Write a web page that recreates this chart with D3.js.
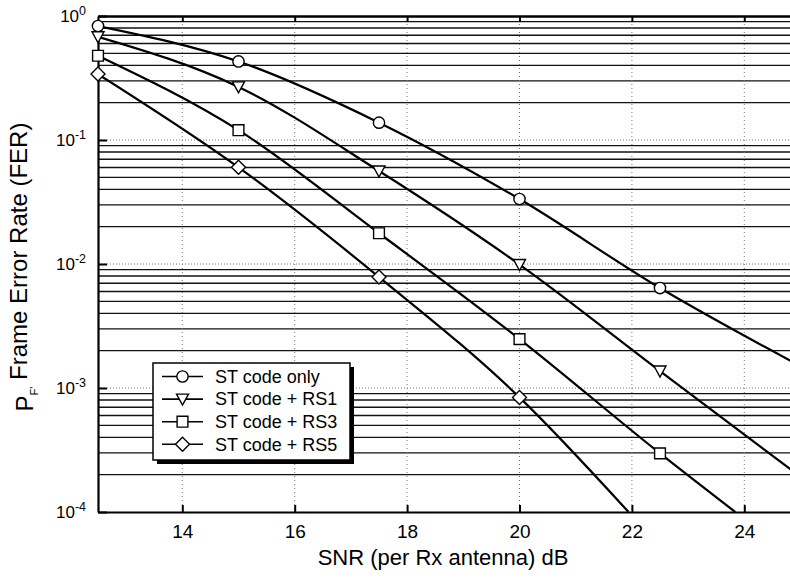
<!DOCTYPE html>
<html>
<head>
<meta charset="utf-8">
<script src="https://cdn.jsdelivr.net/npm/d3@7"></script>
<style>
  body { margin: 0; background: #fff; }
  svg { font-family: "Liberation Sans", Arial, Helvetica, sans-serif; }
  .minor { stroke: #111; stroke-width: 1.4; }
  .major { stroke: #777; stroke-width: 1; stroke-dasharray: 1,2; }
  .vgrid { stroke: #777; stroke-width: 1; stroke-dasharray: 1,3; }
  .axis path, .axis line { stroke: #000; }
  .curve { fill: none; stroke: #000; stroke-width: 2.2; }
  .mark { fill: #fff; stroke: #000; stroke-width: 1.4; }
</style>
</head>
<body>
<div id="chart"></div>
<script>
// SNR points where markers sit (dB)
var snr = [12.5, 15, 17.5, 20, 22.5];

// frame error rate
var ferST  = [0.83, 0.43, 0.138, 0.0334, 0.0064];
var ferRS1 = [0.68, 0.268, 0.0562, 0.0099, 0.00137];
var ferRS3 = [0.478, 0.120, 0.0177, 0.00248, 0.000297];
var ferRS5 = [0.340, 0.0602, 0.00785, 0.00084];

// where each curve leaves the plot (no marker there)
var endSnr = [25, 25, 23.84, 21.94];
var endFer = [0.0015, 0.000192, 0.0001, 0.0001];

var names = ["ST code only", "ST code + RS1", "ST code + RS3", "ST code + RS5"];
var shapes = ["circle", "triangle", "square", "diamond"];

var xTicks = [14, 16, 18, 20, 22, 24];
var yTicks = [1, 0.1, 0.01, 0.001, 0.0001];
var yExp = ["0", "-1", "-2", "-3", "-4"];

var W = 790, H = 585;
var pl = 98, pr = 800.5, pt = 16, pb = 512;

var svg = d3.select("#chart").append("svg")
    .attr("width", W)
    .attr("height", H);

var x = d3.scaleLinear().domain([12.5, 25]).range([pl, pr]);
var y = d3.scaleLog().domain([1e-4, 1]).range([pb, pt]);

svg.append("clipPath").attr("id", "plot")
  .append("rect")
    .attr("x", pl).attr("y", pt)
    .attr("width", pr - pl).attr("height", pb - pt);

// minor horizontal grid (2..9 in each decade)
var minorVals = [];
[-4, -3, -2, -1].forEach(function(e) {
  for (var k = 2; k <= 9; k++) minorVals.push(k * Math.pow(10, e));
});
svg.selectAll(".minor").data(minorVals).enter().append("line")
    .attr("class", "minor")
    .attr("x1", pl).attr("x2", pr)
    .attr("y1", function(d) { return y(d); })
    .attr("y2", function(d) { return y(d); });

svg.selectAll(".major").data([0.1, 0.01, 0.001]).enter().append("line")
    .attr("class", "major")
    .attr("x1", pl).attr("x2", pr)
    .attr("y1", function(d) { return y(d); })
    .attr("y2", function(d) { return y(d); });

svg.selectAll(".vgrid").data(xTicks).enter().append("line")
    .attr("class", "vgrid")
    .attr("x1", function(d) { return x(d); })
    .attr("x2", function(d) { return x(d); })
    .attr("y1", pt).attr("y2", pb);

// axes
var xAxis = svg.append("g")
    .attr("class", "axis")
    .attr("transform", "translate(0," + pb + ")")
    .call(d3.axisBottom(x).tickValues(xTicks).tickSize(-7).tickSizeOuter(0).tickPadding(13));
xAxis.select(".domain").attr("stroke-width", 2.2);
xAxis.selectAll(".tick line").attr("stroke-width", 2);
xAxis.selectAll("text").attr("font-size", 19).attr("font-family", null).attr("fill", "#000");

var topAxis = svg.append("g")
    .attr("class", "axis")
    .attr("transform", "translate(0," + pt + ")")
    .call(d3.axisTop(x).tickValues(xTicks).tickSize(-6).tickSizeOuter(0).tickFormat(""));
topAxis.select(".domain").attr("stroke-width", 2.5);
topAxis.selectAll(".tick line").attr("stroke-width", 2);

var yAxis = svg.append("g")
    .attr("class", "axis")
    .attr("transform", "translate(" + pl + ",0)")
    .call(d3.axisLeft(y).tickValues(yTicks).tickSize(-9).tickSizeOuter(0).tickPadding(12));
yAxis.select(".domain").attr("stroke-width", 2.2);
yAxis.selectAll(".tick line").attr("stroke-width", 2);
yAxis.selectAll("text")
    .attr("font-size", 17).attr("font-family", null).attr("fill", "#000")
    .each(function(d, i) {
      var t = d3.select(this).text(null);
      t.append("tspan").text("10");
      t.append("tspan").attr("dy", "-0.55em").attr("font-size", 12.5).text(yExp[i]);
    });

// symbols
function symbolPath(shape) {
  if (shape === "circle") return d3.symbol(d3.symbolCircle, 100)();
  if (shape === "square") return "M-5.4,-5.4H5.4V5.4H-5.4Z";
  if (shape === "diamond") return "M0,-7L7,0L0,7L-7,0Z";
  return "M-6,-5H6L0,6Z"; // triangle pointing down
}

var allFer = [ferST, ferRS1, ferRS3, ferRS5];
var line = d3.line()
    .curve(d3.curveMonotoneX)
    .x(function(d) { return x(d[0]); })
    .y(function(d) { return y(d[1]); });

var curves = svg.append("g").attr("clip-path", "url(#plot)");
allFer.forEach(function(fer, i) {
  var pts = fer.map(function(v, j) { return [snr[j], v]; });
  var full = pts.concat([[endSnr[i], endFer[i]]]);
  curves.append("path")
      .datum(full)
      .attr("class", "curve")
      .attr("d", line);
  svg.selectAll(".m" + i).data(pts).enter().append("path")
      .attr("class", "mark m" + i)
      .attr("transform", function(d) { return "translate(" + x(d[0]) + "," + y(d[1]) + ")"; })
      .attr("d", symbolPath(shapes[i]));
});

// legend
var lg = svg.append("g");
lg.append("rect")
    .attr("x", 157).attr("y", 367).attr("width", 197).attr("height", 97)
    .attr("fill", "#000");
lg.append("rect")
    .attr("x", 153).attr("y", 363).attr("width", 197).attr("height", 97)
    .attr("fill", "#fff").attr("stroke", "#000").attr("stroke-width", 1.5);
names.forEach(function(n, i) {
  var cy = 376.5 + i * 22.6;
  lg.append("line")
      .attr("x1", 162).attr("x2", 203).attr("y1", cy).attr("y2", cy)
      .attr("stroke", "#000").attr("stroke-width", 1.6);
  lg.append("path")
      .attr("class", "mark")
      .attr("transform", "translate(182.5," + cy + ")")
      .attr("d", symbolPath(shapes[i]));
  lg.append("text")
      .attr("x", 215).attr("y", cy).attr("dy", "0.35em")
      .attr("font-size", 18)
      .text(n);
});

// axis titles
svg.append("text")
    .attr("x", 443).attr("y", 565)
    .attr("text-anchor", "middle")
    .attr("font-size", 22)
    .text("SNR (per Rx antenna) dB");

var yl = svg.append("text")
    .attr("transform", "translate(33,267) rotate(-90)")
    .attr("text-anchor", "middle")
    .attr("font-size", 24);
yl.append("tspan").text("P");
yl.append("tspan").attr("font-size", 11).attr("dy", "0.45em").text("F'");
yl.append("tspan").attr("dy", "-0.45em").text(" Frame Error Rate (FER)");
</script>
</body>
</html>
